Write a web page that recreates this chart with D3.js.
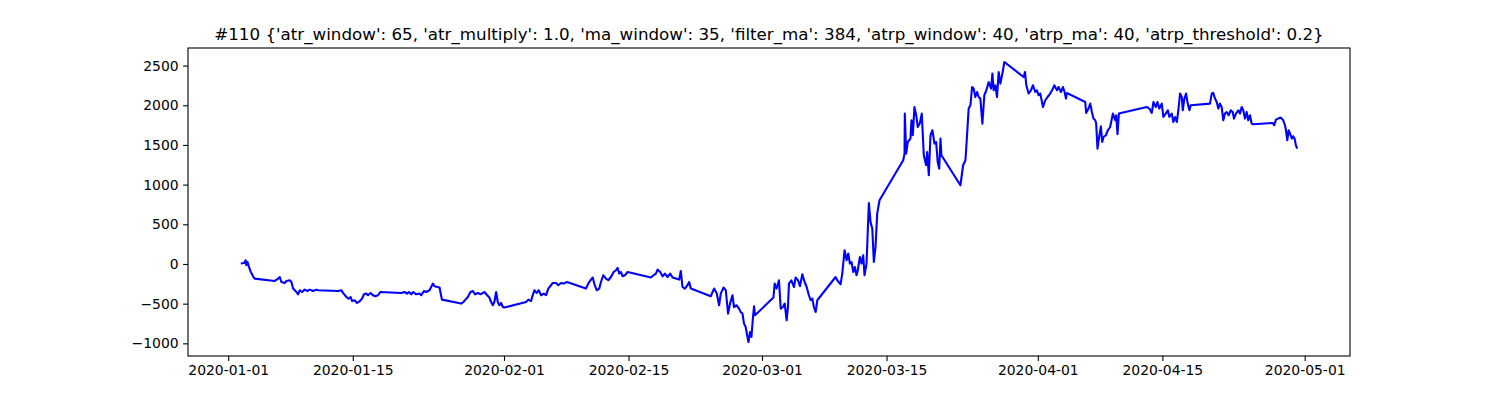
<!DOCTYPE html>
<html>
<head>
<meta charset="utf-8">
<script src="https://d3js.org/d3.v7.min.js"></script>
<style>
  body { margin: 0; background: #fff; }
  text { font-family: "DejaVu Sans", sans-serif; fill: #000; }
  .tick line { stroke: #000; stroke-width: 1.1; }
  .tick text { font-size: 13.9px; }
</style>
</head>
<body>
<div id="chart"></div>
<script>
// equity curve (times in 2020, UTC)
var times = [
  "01-02 10:00","01-02 19:00","01-02 23:00","01-03 01:00","01-03 04:00","01-03 07:30","01-03 13:00","01-03 19:00","01-03 23:30",
  "01-06 05:30","01-06 14:45","01-06 19:00","01-06 23:30","01-07 08:30","01-07 13:00","01-07 22:00","01-08 02:30","01-08 07:00",
  "01-08 16:00","01-08 20:30","01-09 01:00","01-09 07:15","01-09 14:15","01-09 21:30","01-10 04:00","01-10 13:00","01-10 22:00",
  "01-11 02:30","01-13 08:15","01-13 17:15","01-13 21:45","01-14 06:45","01-14 12:45","01-14 18:15","01-14 22:00","01-15 05:00",
  "01-15 11:30","01-15 18:30","01-16 01:00","01-16 06:15","01-16 12:30","01-16 17:00","01-17 00:00","01-17 06:30","01-17 12:45",
  "01-17 20:00","01-18 02:15","01-20 10:45","01-20 19:45","01-21 02:15","01-21 07:30","01-21 13:45","01-21 19:00","01-22 03:15",
  "01-22 12:00","01-22 16:45","01-23 00:00","01-23 06:00","01-23 15:00","01-23 19:30","01-24 00:15","01-24 04:30","01-24 18:00",
  "01-25 00:30","01-27 04:30","01-27 10:30","01-27 16:00","01-27 22:30","01-28 05:30","01-28 12:00","01-28 18:00","01-29 01:30",
  "01-29 08:30","01-29 19:15","01-30 02:30","01-30 08:30","01-30 13:15","01-30 17:45","01-30 22:00","01-31 02:45","01-31 07:15",
  "01-31 11:30","01-31 16:15","01-31 20:45","02-01 01:00","02-03 11:30","02-03 17:45","02-04 01:00","02-04 05:30","02-04 10:00",
  "02-04 16:15","02-04 21:45","02-05 04:00","02-05 11:15","02-05 17:30","02-05 23:30","02-06 06:45","02-06 11:30","02-06 20:15",
  "02-07 02:30","02-07 09:45","02-07 17:00","02-08 02:00","02-10 05:00","02-10 11:15","02-10 18:30","02-10 23:15","02-11 03:30",
  "02-11 10:00","02-11 17:00","02-11 21:30","02-12 03:45","02-12 11:00","02-12 17:15","02-13 00:30","02-13 07:45","02-13 14:00",
  "02-13 18:30","02-13 22:45","02-14 03:30","02-14 08:00","02-14 14:15","02-14 21:30","02-17 12:15","02-17 19:30","02-18 01:45",
  "02-18 06:15","02-18 13:15","02-18 19:45","02-19 02:00","02-19 09:15","02-19 16:15","02-19 22:45","02-20 07:30","02-20 16:30",
  "02-20 21:00","02-21 01:30","02-21 07:45","02-21 15:00","02-21 19:30","02-22 00:00","02-24 05:45","02-24 14:45","02-24 22:00",
  "02-25 04:15","02-25 08:45","02-25 16:00","02-25 22:15","02-26 04:30","02-26 09:45","02-26 16:15","02-26 20:30","02-27 03:45",
  "02-27 10:00","02-27 14:30","02-27 19:15","02-27 23:30","02-28 04:00","02-28 08:45","02-28 11:30","02-28 15:45","02-28 19:30",
  "02-28 23:00","02-29 02:30","02-29 05:15","03-02 06:45","03-02 10:15","03-02 15:30","03-02 21:45","03-03 02:30","03-03 08:30",
  "03-03 13:15","03-03 18:30","03-03 22:00","03-04 00:45","03-04 07:15","03-04 14:15","03-04 18:45","03-05 01:00","03-05 06:30",
  "03-05 12:45","03-05 19:00","03-06 00:30","03-06 06:30","03-06 11:15","03-06 15:45","03-06 20:00","03-07 00:45","03-07 05:15",
  "03-09 06:30","03-09 11:00","03-09 20:00","03-10 00:30","03-10 06:45","03-10 12:15","03-10 16:45","03-10 21:00","03-11 01:30",
  "03-11 06:15","03-11 10:30","03-11 15:00","03-11 18:30","03-12 00:00","03-12 04:30","03-12 09:00","03-12 12:30","03-12 18:00",
  "03-13 00:15","03-13 04:45","03-13 09:30","03-13 13:45","03-13 18:15","03-13 22:45","03-14 05:00","03-16 21:00","03-17 00:30",
  "03-17 01:15","03-17 05:00","03-17 09:15","03-17 16:30","03-17 19:15","03-17 22:45","03-18 03:15","03-18 08:00","03-18 12:15",
  "03-18 17:30","03-18 23:00","03-19 04:30","03-19 10:45","03-19 13:30","03-19 18:00","03-19 22:30","03-20 03:45","03-20 09:15",
  "03-20 13:45","03-20 18:00","03-20 22:00","03-21 01:30","03-21 04:00","03-23 07:15","03-23 14:30","03-23 20:45","03-23 23:30",
  "03-24 05:30","03-24 10:15","03-24 14:45","03-24 19:00","03-24 23:30","03-25 04:15","03-25 08:30","03-25 13:00","03-25 18:30",
  "03-25 23:45","03-26 05:15","03-26 11:30","03-26 18:00","03-26 21:30","03-27 01:00","03-27 05:30","03-27 10:00","03-27 14:30",
  "03-27 19:00","03-28 01:15","03-28 05:45","03-30 09:45","03-30 13:30","03-30 17:00","03-30 23:15","03-31 05:45","03-31 11:00",
  "03-31 17:15","03-31 21:45","04-01 02:00","04-01 06:45","04-01 14:00","04-01 20:15","04-02 02:30","04-02 09:30","04-02 17:00",
  "04-02 20:30","04-03 03:45","04-03 08:00","04-03 14:30","04-03 20:00","04-04 00:15","04-04 04:00","04-04 06:30","04-06 08:00",
  "04-06 10:30","04-06 16:45","04-06 21:30","04-07 02:00","04-07 06:15","04-07 11:00","04-07 13:30","04-07 17:00","04-07 21:30",
  "04-08 02:15","04-08 05:45","04-08 09:15","04-08 15:45","04-08 21:00","04-09 03:15","04-09 10:30","04-09 16:45","04-09 19:30",
  "04-09 23:00","04-10 02:45","04-13 06:00","04-13 13:00","04-13 19:30","04-14 00:00","04-14 06:30","04-14 10:45","04-14 16:00",
  "04-14 22:30","04-15 02:45","04-15 09:15","04-15 14:45","04-15 19:00","04-16 01:30","04-16 05:45","04-16 10:15","04-16 15:00",
  "04-16 19:15","04-16 23:45","04-17 04:30","04-17 07:00","04-17 11:30","04-17 16:00","04-17 20:30","04-18 01:00","04-18 04:30",
  "04-20 08:30","04-20 13:15","04-20 17:30","04-20 22:00","04-21 02:45","04-21 07:00","04-21 11:30","04-21 16:00","04-21 20:30",
  "04-22 01:00","04-22 05:30","04-22 11:00","04-22 16:30","04-22 21:45","04-23 01:15","04-23 06:45","04-23 13:00","04-23 17:30",
  "04-23 22:00","04-24 02:15","04-24 07:00","04-24 11:30","04-24 15:45","04-24 20:30","04-25 01:00","04-25 05:15","04-27 09:30",
  "04-27 13:45","04-27 18:30","04-28 00:30","04-28 07:00","04-28 14:00","04-28 18:45","04-28 21:30","04-29 01:00","04-29 04:45",
  "04-29 10:00","04-29 13:30","04-29 17:00","04-29 20:45","04-30 00:15","04-30 03:45"
];
var equity = [
  5,13,47,-16,25,-29,-101,-155,-184,
  -214,-184,-164,-227,-239,-214,-205,-227,-310,
  -353,-382,-331,-353,-323,-340,-323,-340,-323,
  -331,-340,-331,-365,-416,-436,-416,-466,-457,
  -491,-470,-436,-382,-373,-394,-365,-394,-407,
  -394,-353,-365,-353,-373,-353,-382,-353,-382,
  -373,-394,-340,-353,-331,-290,-247,-281,-297,
  -449,-499,-479,-449,-416,-353,-340,-382,-365,
  -382,-353,-394,-423,-479,-520,-479,-353,-479,
  -520,-491,-542,-549,-479,-449,-466,-394,-331,
  -365,-331,-394,-373,-394,-310,-268,-239,-239,
  -268,-239,-247,-227,-310,-247,-197,-171,-247,
  -331,-310,-227,-142,-184,-205,-164,-101,-79,
  -50,-121,-101,-155,-142,-101,-171,-142,-121,
  -71,-101,-155,-121,-164,-121,-171,-184,-197,
  -88,-290,-310,-268,-227,-310,-407,-310,-373,
  -520,-373,-297,-331,-625,-499,-394,-542,-520,
  -562,-605,-625,-751,-794,-920,-983,-857,-920,
  -709,-533,-646,-423,-247,-310,-205,-562,-542,
  -499,-709,-542,-247,-205,-290,-171,-205,-281,
  -130,-227,-290,-394,-457,-436,-542,-605,-457,
  -164,-205,-256,-121,173,47,131,5,25,
  -101,-38,-142,-79,88,5,110,-142,5,
  769,529,446,25,214,635,803,1307,1391,
  1895,1391,1537,1580,1811,1622,1978,1874,1726,
  1769,1895,1370,1244,1411,1118,1622,1685,1517,
  1537,1285,1202,1580,1370,992,1244,1307,1496,
  1958,2000,2230,2210,2104,2167,2104,2084,1769,
  2126,2189,2293,2210,2399,2189,2252,2104,2419,
  2273,2419,2545,2356,2419,2252,2147,2189,2252,
  2167,2189,2126,2147,1978,2063,2104,2147,2210,
  2252,2189,2230,2167,2230,2167,2084,2155,2041,
  1903,1958,2021,1915,1832,1811,1769,1454,1600,
  1735,1537,1600,1622,1685,1726,1895,1811,1874,
  1634,1895,1978,1958,1903,2041,1978,2041,1958,
  2021,1852,1895,1937,1852,1895,1789,1852,1789,
  1937,2147,2104,1937,2084,2147,2021,1937,2000,
  2021,2147,2155,2084,2041,1958,2021,1978,1811,
  1895,1915,1874,1937,1915,1832,1895,1937,1895,
  1978,1937,1832,1915,1811,1874,1769,1760,1777,
  1748,1819,1832,1845,1811,1748,1685,1559,1685,
  1622,1580,1609,1580,1496,1454
];
var xTickLabels = ["2020-01-01","2020-01-15","2020-02-01","2020-02-15","2020-03-01","2020-03-15","2020-04-01","2020-04-15","2020-05-01"];
var yTickValues = [-1000, -500, 0, 500, 1000, 1500, 2000, 2500];
var title = "#110 {'atr_window': 65, 'atr_multiply': 1.0, 'ma_window': 35, 'filter_ma': 384, 'atrp_window': 40, 'atrp_ma': 40, 'atrp_threshold': 0.2}";

var W = 1500, H = 400;
var margin = {top: 48, right: 150, bottom: 44, left: 188};
var width = W - margin.left - margin.right,
    height = H - margin.top - margin.bottom;

var parseT = d3.utcParse("%Y-%m-%d %H:%M");
var parseD = d3.utcParse("%Y-%m-%d");
var data = times.map(function(t, i) { return {t: parseT("2020-" + t), v: equity[i]}; });

var svg = d3.select("#chart").append("svg")
    .attr("width", W)
    .attr("height", H);
var g = svg.append("g")
    .attr("transform", "translate(" + margin.left + "," + margin.top + ")");

// matplotlib style 5% margins
var tExt = d3.extent(data, function(d) { return +d.t; });
var tPad = (tExt[1] - tExt[0]) * 0.05;
var vExt = d3.extent(data, function(d) { return d.v; });
var vPad = (vExt[1] - vExt[0]) * 0.05;

var x = d3.scaleUtc()
    .domain([new Date(tExt[0] - tPad), new Date(tExt[1] + tPad)])
    .range([0, width]);
var y = d3.scaleLinear()
    .domain([vExt[0] - vPad, vExt[1] + vPad])
    .range([height, 0]);

// line
g.append("path")
    .datum(data)
    .attr("fill", "none")
    .attr("stroke", "#0000ff")
    .attr("stroke-width", 2.1)
    .attr("stroke-linejoin", "round")
    .attr("d", d3.line()
        .x(function(d) { return x(d.t); })
        .y(function(d) { return y(d.v); }));

// axes
var xAxis = g.append("g")
    .attr("transform", "translate(0," + height + ")")
    .call(d3.axisBottom(x)
        .tickValues(xTickLabels.map(parseD))
        .tickSize(4.9)
        .tickPadding(4.5)
        .tickFormat(d3.utcFormat("%Y-%m-%d")));
xAxis.select(".domain").remove();

var yAxis = g.append("g")
    .call(d3.axisLeft(y)
        .tickValues(yTickValues)
        .tickSize(4.9)
        .tickPadding(4.5)
        .tickFormat(function(d) { return d < 0 ? "\u2212" + Math.abs(d) : d; }));
yAxis.select(".domain").remove();

// frame
g.append("rect")
    .attr("width", width)
    .attr("height", height)
    .attr("fill", "none")
    .attr("stroke", "#000")
    .attr("stroke-width", 1.1);

// title
svg.append("text")
    .attr("x", margin.left + width / 2)
    .attr("y", margin.top - 8)
    .attr("text-anchor", "middle")
    .style("font-size", "16.7px")
    .text(title);
</script>
</body>
</html>
